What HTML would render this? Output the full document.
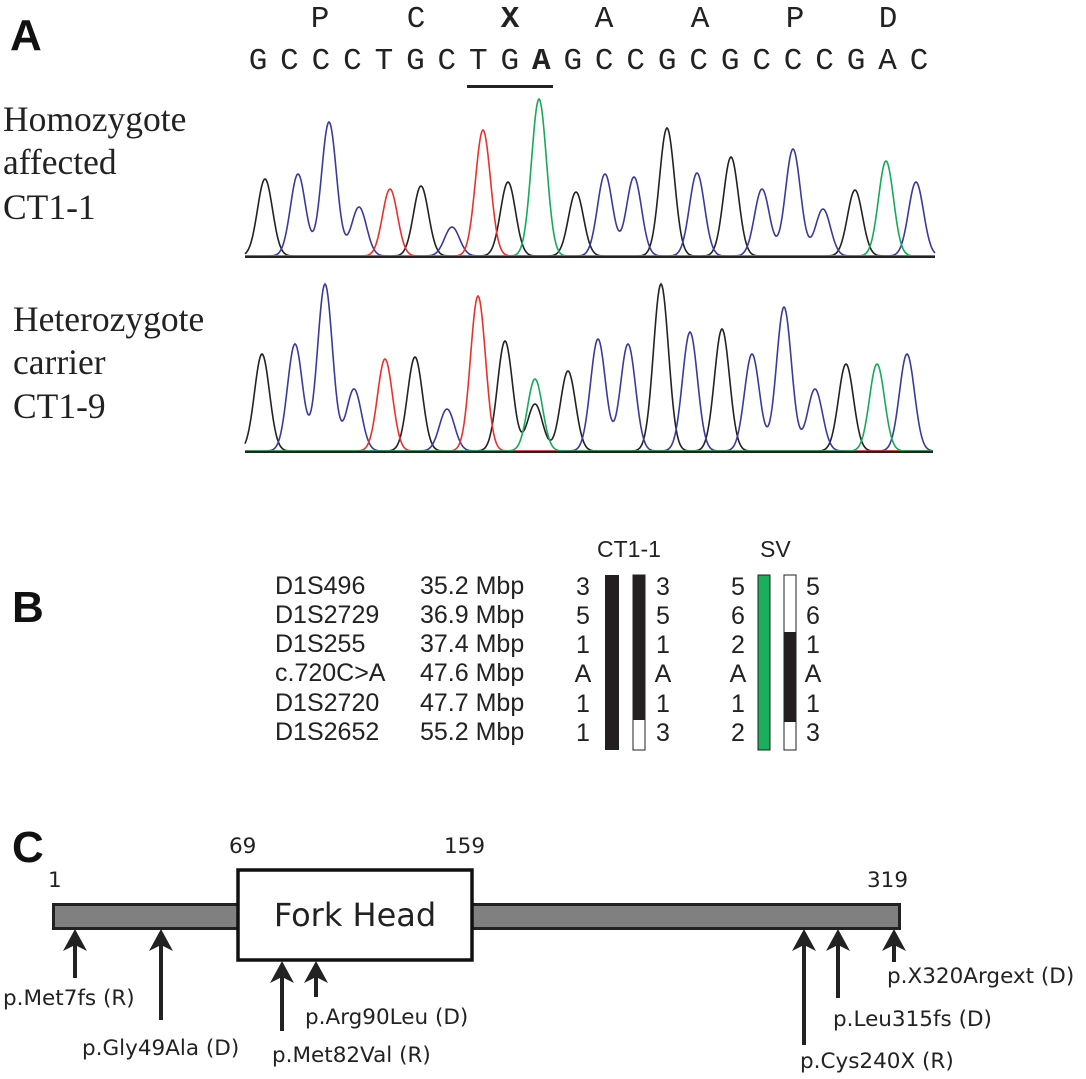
<!DOCTYPE html>
<html><head><meta charset="utf-8"><style>
body{margin:0;background:#fff;width:1086px;height:1079px;overflow:hidden}
svg{display:block}
.ser{font-family:"Liberation Serif",serif;font-size:35.5px;fill:#222}
.mono{font-family:"Liberation Mono","Courier New",serif;font-size:31px;fill:#222}
.ar{font-family:"Liberation Sans",sans-serif;font-size:25px;fill:#222}
.lb{font-family:"DejaVu Sans","Liberation Sans",sans-serif;font-size:21.5px;fill:#222}
.big{font-family:"Liberation Sans",sans-serif;font-weight:bold;font-size:44px;fill:#111}
</style></head><body>
<svg id="s" width="1086" height="1079" xmlns="http://www.w3.org/2000/svg">
<text class="big" x="10" y="50">A</text>
<text class="big" x="12" y="622">B</text>
<text class="big" x="12" y="862">C</text>
<g class="mono" text-anchor="middle">
<text x="320" y="27">P</text><text x="416" y="27">C</text><text x="510" y="27" font-weight="bold">X</text><text x="604" y="27">A</text><text x="700" y="27">A</text><text x="795" y="27">P</text><text x="888" y="27">D</text>
</g>
<g id="seq" class="mono" text-anchor="middle"></g>
<rect x="467" y="85" width="86" height="3" fill="#222"/>
<text class="ser" x="3" y="131">Homozygote</text>
<text class="ser" x="3" y="174">affected</text>
<text class="ser" x="3" y="219">CT1-1</text>
<text class="ser" x="13" y="331">Heterozygote</text>
<text class="ser" x="13" y="374">carrier</text>
<text class="ser" x="13" y="418">CT1-9</text>
<g id="tr"></g>
<g class="ar">
<text x="275" y="594">D1S496</text><text x="420" y="594">35.2 Mbp</text>
<text x="275" y="623">D1S2729</text><text x="420" y="623">36.9 Mbp</text>
<text x="275" y="652">D1S255</text><text x="420" y="652">37.4 Mbp</text>
<text x="275" y="681">c.720C&gt;A</text><text x="420" y="681">47.6 Mbp</text>
<text x="275" y="711">D1S2720</text><text x="420" y="711">47.7 Mbp</text>
<text x="275" y="740">D1S2652</text><text x="420" y="740">55.2 Mbp</text>
<text x="597" y="557" font-size="23">CT1-1</text><text x="760" y="557" font-size="23">SV</text>
</g>
<g class="ar" text-anchor="middle" font-size="26">
<text x="583" y="595">3</text><text x="583" y="624">5</text><text x="583" y="653">1</text><text x="583" y="682">A</text><text x="583" y="712">1</text><text x="583" y="741">1</text>
<text x="663" y="595">3</text><text x="663" y="624">5</text><text x="663" y="653">1</text><text x="663" y="682">A</text><text x="663" y="712">1</text><text x="663" y="741">3</text>
<text x="738" y="595">5</text><text x="738" y="624">6</text><text x="738" y="653">2</text><text x="738" y="682">A</text><text x="738" y="712">1</text><text x="738" y="741">2</text>
<text x="813" y="595">5</text><text x="813" y="624">6</text><text x="813" y="653">1</text><text x="813" y="682">A</text><text x="813" y="712">1</text><text x="813" y="741">3</text>
</g>
<rect x="605" y="575" width="14" height="175" fill="#231f20"/>
<rect x="633" y="575" width="12" height="175" fill="#fff" stroke="#231f20" stroke-width="1"/>
<rect x="632.5" y="575" width="13" height="145" fill="#231f20"/>
<rect x="758" y="575" width="12" height="175" fill="#1aaf5d" stroke="#231f20" stroke-width="1"/>
<rect x="784" y="575" width="12" height="175" fill="#fff" stroke="#231f20" stroke-width="1"/>
<rect x="783.5" y="632" width="13" height="90" fill="#231f20"/>
<rect x="53.5" y="904.5" width="846" height="24" fill="#808080" stroke="#222" stroke-width="3"/>
<rect x="238" y="870" width="234" height="90" fill="#fff" stroke="#111" stroke-width="3.5"/>
<text x="355" y="926" text-anchor="middle" font-family="DejaVu Sans,Liberation Sans,sans-serif" font-size="32" fill="#222">Fork Head</text>
<g class="lb" font-size="18">
<text x="48" y="887">1</text><text x="229" y="853">69</text><text x="444" y="853">159</text><text x="867" y="887">319</text>
</g>
<g stroke="#222" stroke-width="4">
<line x1="75" y1="940" x2="75" y2="978"/><line x1="161" y1="940" x2="161" y2="1020"/>
<line x1="282" y1="972" x2="282" y2="1031"/><line x1="316" y1="972" x2="316" y2="997"/>
<line x1="804" y1="940" x2="804" y2="1045"/><line x1="838" y1="940" x2="838" y2="998"/><line x1="894" y1="940" x2="894" y2="962"/>
</g>
<g fill="#222">
<path d="M75 929 l-12 22 l12 -6 l12 6z"/><path d="M161 929 l-12 22 l12 -6 l12 6z"/>
<path d="M282 961 l-12 22 l12 -6 l12 6z"/><path d="M316 961 l-12 22 l12 -6 l12 6z"/>
<path d="M804 929 l-12 22 l12 -6 l12 6z"/><path d="M838 929 l-12 22 l12 -6 l12 6z"/><path d="M894 929 l-12 22 l12 -6 l12 6z"/>
</g>
<g class="lb">
<text x="3" y="1005">p.Met7fs (R)</text>
<text x="82" y="1055">p.Gly49Ala (D)</text>
<text x="272" y="1062">p.Met82Val (R)</text>
<text x="305" y="1024">p.Arg90Leu (D)</text>
<text x="800" y="1068">p.Cys240X (R)</text>
<text x="833" y="1026">p.Leu315fs (D)</text>
<text x="887" y="983">p.X320Argext (D)</text>
</g>
</svg>
<script>
var ns="http://www.w3.org/2000/svg";
var letters=["G","C","C","C","T","G","C","T","G","A","G","C","C","G","C","G","C","C","C","G","A","C"];
var g=document.getElementById("seq");
var L=letters.length, x0=258, x1=919;
for(var i=0;i<L;i++){var t=document.createElementNS(ns,"text");t.setAttribute("x",x0+(x1-x0)*i/(L-1));t.setAttribute("y","69");if(i==9)t.setAttribute("font-weight","bold");t.textContent=letters[i];g.appendChild(t);}
var col={k:"#222",b:"#3a3a9a",r:"#e8322c",g:"#17a95a"};
function trace(base,x0,x1,peaks){
 var tr=document.getElementById("tr");
 ["k","b","r","g"].forEach(function(c){
  var d="";
  for(var x=x0;x<=x1;x+=1){var y=0;peaks.forEach(function(p){if(p[2]==c){var dx=x-p[0];y+=(base-p[1])*Math.exp(-dx*dx/(2*7.5*7.5));}});
   d+=(x==x0?"M":"L")+x+" "+(base-y-1).toFixed(1);}
  var p=document.createElementNS(ns,"path");p.setAttribute("d",d);p.setAttribute("fill","none");p.setAttribute("stroke",col[c]);p.setAttribute("stroke-width","1.6");tr.appendChild(p);});
 var l=document.createElementNS(ns,"line");l.setAttribute("x1",x0);l.setAttribute("x2",x1);l.setAttribute("y1",base);l.setAttribute("y2",base);l.setAttribute("stroke","#222");l.setAttribute("stroke-width","2");tr.appendChild(l);
}
trace(257,245,935,[[265,180,"k"],[298,175,"b"],[329,123,"b"],[359,208,"b"],[390,190,"r"],[421,187,"k"],[452,228,"b"],[483,131,"r"],[508,183,"k"],[539,100,"g"],[576,193,"k"],[605,175,"b"],[634,178,"b"],[667,129,"k"],[697,174,"b"],[731,158,"k"],[762,190,"b"],[793,150,"b"],[823,210,"b"],[855,191,"k"],[886,162,"g"],[916,183,"b"]]);
trace(452,245,933,[[262,355,"k"],[295,345,"b"],[325,285,"b"],[354,390,"b"],[385,360,"r"],[415,358,"k"],[447,410,"b"],[478,297,"r"],[505,342,"k"],[535,380,"g"],[535,405,"k"],[568,372,"k"],[598,340,"b"],[628,345,"b"],[661,285,"k"],[690,333,"b"],[722,330,"k"],[752,355,"b"],[784,308,"b"],[815,390,"b"],[846,365,"k"],[877,365,"g"],[907,355,"b"]]);
</script>
</body></html>
